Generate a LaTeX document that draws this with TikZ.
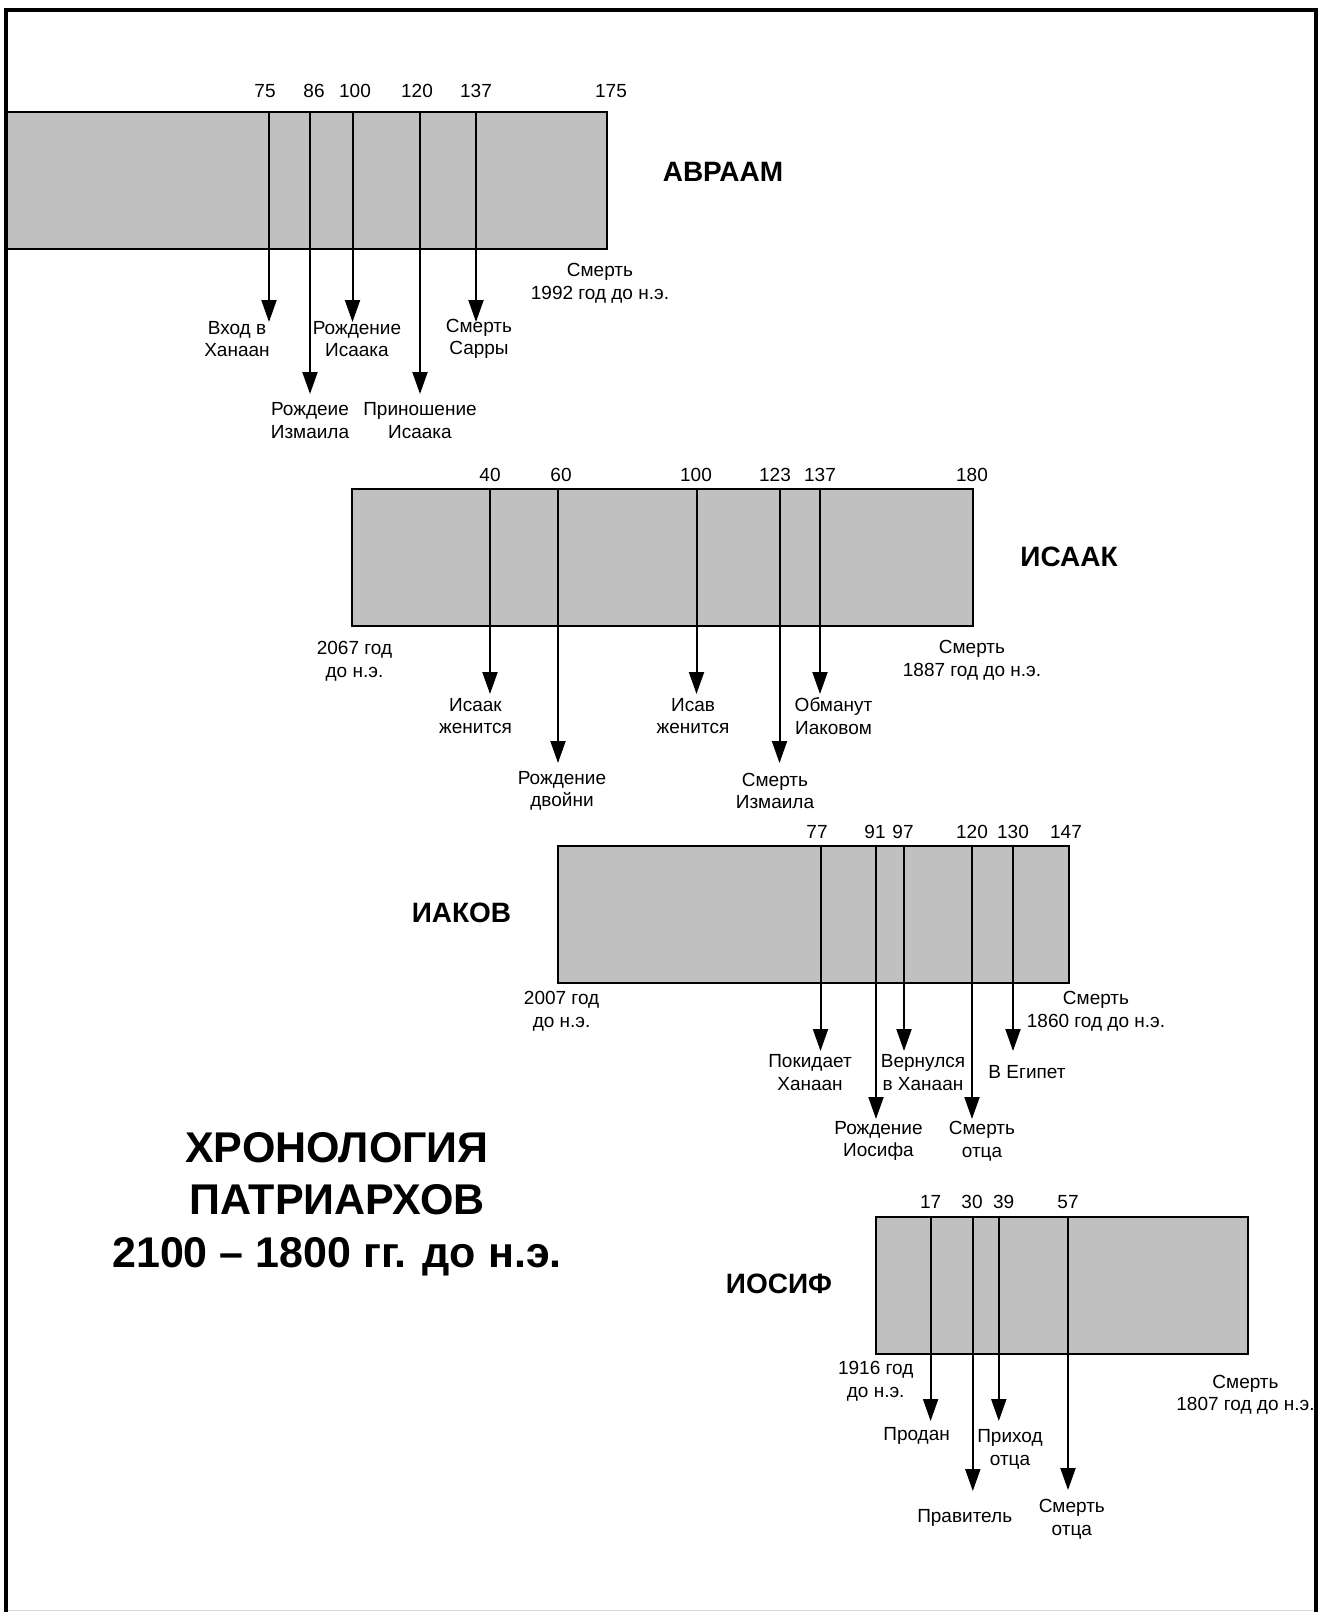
\documentclass[tikz,border=0pt]{standalone}
\usepackage{fontspec}
\setmainfont{Liberation Sans}
\usetikzlibrary{arrows.meta}
\definecolor{barGray}{RGB}{192,192,192}

\begin{document}
\begin{tikzpicture}[
  x=0.5pt, y=-0.5pt,
  every node/.style={font=\fontsize{9.5pt}{11.25pt}\selectfont, inner sep=0pt},
  lifebar/.style={draw, line width=1pt, fill=barGray, minimum height=68.5pt},
  ev/.style={align=center},
  num/.style={},
  who/.style={font=\fontsize{14pt}{17pt}\selectfont\bfseries},
  evarrow/.style={line width=1pt, -{Triangle[width=7.5pt,length=11pt]}},
]
\useasboundingbox (0,0) rectangle (1329,1612);

% Abraham
\node[lifebar, minimum width=300.5pt] (abr) at (306.5,180.5) {};
\node[who] (abrname) at (723,172) {АВРААМ};
\node[num] (abr75) at (265,91) {75};
\node[num] (abr86) at (314,91) {86};
\node[num] (abr100) at (355,91) {100};
\node[num] (abr120) at (417,91) {120};
\node[num] (abr137) at (476,91) {137};
\node[num] (abr175) at (611,91) {175};
\coordinate (ta75) at (269,322);
\coordinate (ta86) at (310,394);
\coordinate (ta100) at (352.5,322);
\coordinate (ta120) at (420,394);
\coordinate (ta137) at (476,322);
\draw[evarrow] (abr.north -| ta75) -- (ta75);
\draw[evarrow] (abr.north -| ta86) -- (ta86);
\draw[evarrow] (abr.north -| ta100) -- (ta100);
\draw[evarrow] (abr.north -| ta120) -- (ta120);
\draw[evarrow] (abr.north -| ta137) -- (ta137);
\node[ev] (ea75) at (237,339) {Вход в\\Ханаан};
\node[ev] (ea86) at (310,420.5) {Рождеие\\Измаила};
\node[ev] (ea100) at (357,339) {Рождение\\Исаака};
\node[ev] (ea120) at (420,420.5) {Приношение\\Исаака};
\node[ev] (ea137) at (479,339) {Смерть\\Сарры};
\node[ev] (abrdeath) at (600,283.5) {Смерть\\1992 год до н.э.};

% Isaac
\node[lifebar, minimum width=310.5pt] (isa) at (662,557) {};
\node[who] (isaname) at (1069,557) {ИСААК};
\node[num] (isa40) at (490,475) {40};
\node[num] (isa60) at (561,475) {60};
\node[num] (isa100) at (696,475) {100};
\node[num] (isa123) at (775,475) {123};
\node[num] (isa137) at (820,475) {137};
\node[num] (isa180) at (972,475) {180};
\coordinate (ti40) at (490,694);
\coordinate (ti60) at (558,763);
\coordinate (ti100) at (696.5,694);
\coordinate (ti123) at (779.5,763);
\coordinate (ti137) at (820,694);
\draw[evarrow] (isa.north -| ti40) -- (ti40);
\draw[evarrow] (isa.north -| ti60) -- (ti60);
\draw[evarrow] (isa.north -| ti100) -- (ti100);
\draw[evarrow] (isa.north -| ti123) -- (ti123);
\draw[evarrow] (isa.north -| ti137) -- (ti137);
\node[ev] (ei40) at (475.5,716) {Исаак\\женится};
\node[ev] (ei60) at (562,791) {Рождение\\двойни};
\node[ev] (ei100) at (693,716) {Исав\\женится};
\node[ev] (ei123) at (775,791) {Смерть\\Измаила};
\node[ev] (ei137) at (833.5,716) {Обманут\\Иаковом};
\node[ev] (isabirth) at (354.5,661) {2067 год\\до н.э.};
\node[ev] (isadeath) at (972,660) {Смерть\\1887 год до н.э.};

% Jacob
\node[lifebar, minimum width=255.5pt] (jac) at (813.5,914) {};
\node[who] (jacname) at (461.5,913) {ИАКОВ};
\node[num] (jac77) at (817,832) {77};
\node[num] (jac91) at (875,832) {91};
\node[num] (jac97) at (903,832) {97};
\node[num] (jac120) at (972,832) {120};
\node[num] (jac130) at (1013,832) {130};
\node[num] (jac147) at (1066,832) {147};
\coordinate (tj77) at (820.5,1051);
\coordinate (tj91) at (876,1119);
\coordinate (tj97) at (904,1051);
\coordinate (tj120) at (972,1119);
\coordinate (tj130) at (1013,1051);
\draw[evarrow] (jac.north -| tj77) -- (tj77);
\draw[evarrow] (jac.north -| tj91) -- (tj91);
\draw[evarrow] (jac.north -| tj97) -- (tj97);
\draw[evarrow] (jac.north -| tj120) -- (tj120);
\draw[evarrow] (jac.north -| tj130) -- (tj130);
\node[ev] (ej77) at (810,1072.5) {Покидает\\Ханаан};
\node[ev] (ej91) at (878.5,1141) {Рождение\\Иосифа};
\node[ev] (ej97) at (923,1072.5) {Вернулся\\в Ханаан};
\node[ev] (ej120) at (982,1141) {Смерть\\отца};
\node[ev] (ej130) at (1027,1072) {В Египет};
\node[ev] (jacbirth) at (561.6,1011) {2007 год\\до н.э.};
\node[ev] (jacdeath) at (1096,1011) {Смерть\\1860 год до н.э.};

% Joseph
\node[lifebar, minimum width=186pt] (jos) at (1062,1285) {};
\node[who] (josname) at (779,1284) {ИОСИФ};
\node[num] (jos17) at (930.6,1202) {17};
\node[num] (jos30) at (972,1202) {30};
\node[num] (jos39) at (1003.6,1202) {39};
\node[num] (jos57) at (1068,1202) {57};
\coordinate (tf17) at (930.6,1421);
\coordinate (tf30) at (972.8,1491);
\coordinate (tf39) at (998.8,1421);
\coordinate (tf57) at (1068,1490);
\draw[evarrow] (jos.north -| tf17) -- (tf17);
\draw[evarrow] (jos.north -| tf30) -- (tf30);
\draw[evarrow] (jos.north -| tf39) -- (tf39);
\draw[evarrow] (jos.north -| tf57) -- (tf57);
\node[ev] (ef17) at (916.6,1435.7) {Продан};
\node[ev] (ef30) at (964.7,1518) {Правитель};
\node[ev] (ef39) at (1010,1449.4) {Приход\\отца};
\node[ev] (ef57) at (1071.8,1519) {Смерть\\отца};
\node[ev] (josbirth) at (875.7,1381) {1916 год\\до н.э.};
\node[ev] (josdeath) at (1245.5,1394.5) {Смерть\\1807 год до н.э.};

% Title
\node[align=center, font=\fontsize{21.5pt}{26.25pt}\selectfont\bfseries] (title)
  at (337,1204) {ХРОНОЛОГИЯ\\ПАТРИАРХОВ\\2100 – 1800 гг. до н.э.};

% Frame
\draw[gray!30, line width=0.5pt] (6,1610) -- (1316,1610);
\draw[line width=2pt] (6,1612) -- (6,10) -- (1316,10) -- (1316,1612);
\end{tikzpicture}
\end{document}
